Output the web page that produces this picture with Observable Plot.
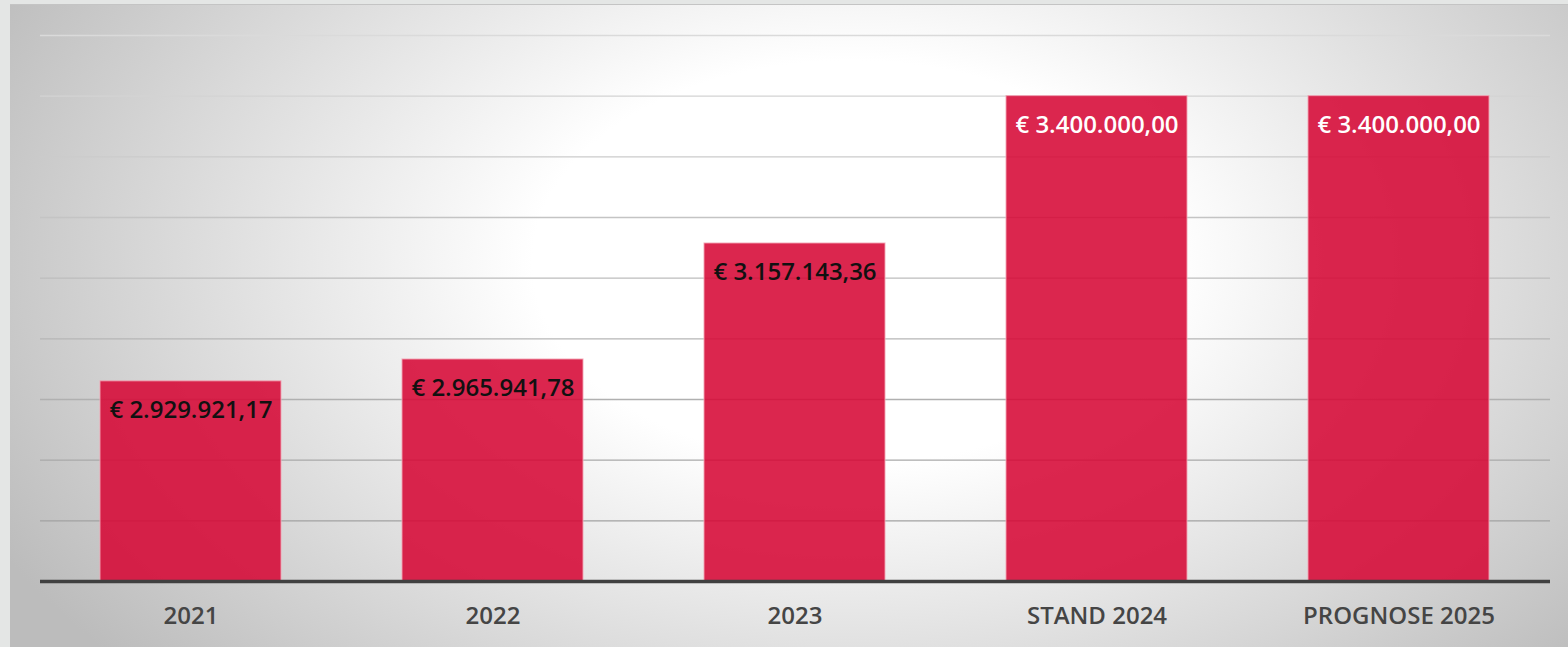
<!DOCTYPE html>
<html>
<head>
<meta charset="utf-8">
<script src="https://cdn.jsdelivr.net/npm/d3@7"></script>
<script src="https://cdn.jsdelivr.net/npm/@observablehq/plot@0.6"></script>
<style>
  html, body { margin: 0; padding: 0; background: #e4e6e5; width: 1568px; height: 647px; overflow: hidden; }
  #panel {
    position: absolute; left: 10px; top: 4px; width: 1558px; height: 643px;
    border-top: 1px solid #c4c4c4;
    background: radial-gradient(ellipse 62% 95% at 54% 40%, #ffffff 0%, #ffffff 33%, #bcbcbc 100%);
  }
  #panel svg { display: block; background: transparent; }
</style>
</head>
<body>
<div id="panel"></div>
<script>
const categories = ["2021", "2022", "2023", "STAND 2024", "PROGNOSE 2025"];
const values = [2929921.17, 2965941.78, 3157143.36, 3400000.00, 3400000.00];
const labels = ["€ 2.929.921,17", "€ 2.965.941,78", "€ 3.157.143,36", "€ 3.400.000,00", "€ 3.400.000,00"];
const gridTicks = [2700000, 2800000, 2900000, 3000000, 3100000, 3200000, 3300000, 3400000, 3500000];
const yMin = 2600000, yMax = 3500000;

const data = categories.map((c, i) => ({category: c, value: values[i], label: labels[i], idx: i}));
const gridColor = d3.scaleLinear().domain([yMax, 3200000, 2700000]).range(["#dadada", "#c4c4c4", "#a2a2a2"]);

const chart = Plot.plot({
  width: 1558,
  height: 642,
  marginLeft: 30,
  marginRight: 18,
  marginTop: 30,
  marginBottom: 66,
  style: {fontFamily: "'Open Sans', sans-serif", background: "transparent"},
  x: {domain: categories, paddingInner: 0.4, paddingOuter: 0.2, label: null},
  y: {domain: [yMin, yMax], axis: null},
  marks: [
    Plot.ruleY(gridTicks, {y: d => d, stroke: d => gridColor(d), strokeWidth: 1.3}),
    Plot.barY(data, {x: "category", y1: yMin, y2: "value", fill: "#d60836", fillOpacity: 0.88, stroke: "#f2a3b3", strokeWidth: 1, strokeOpacity: 0.9}),
    Plot.text(data, {x: "category", y: "value", text: "label", dy: 29, fontSize: 24, fontWeight: 600,
      fill: d => d.idx >= 3 ? "#ffffff" : "#111111"}),
    Plot.ruleY([yMin], {stroke: "#404040", strokeWidth: 3.5}),
    Plot.axisX({tickSize: 0, tickPadding: 35, lineAnchor: "middle", fontSize: 24, fontWeight: 600, fill: "#454545", label: null})
  ]
});
document.getElementById("panel").appendChild(chart);
</script>
</body>
</html>
